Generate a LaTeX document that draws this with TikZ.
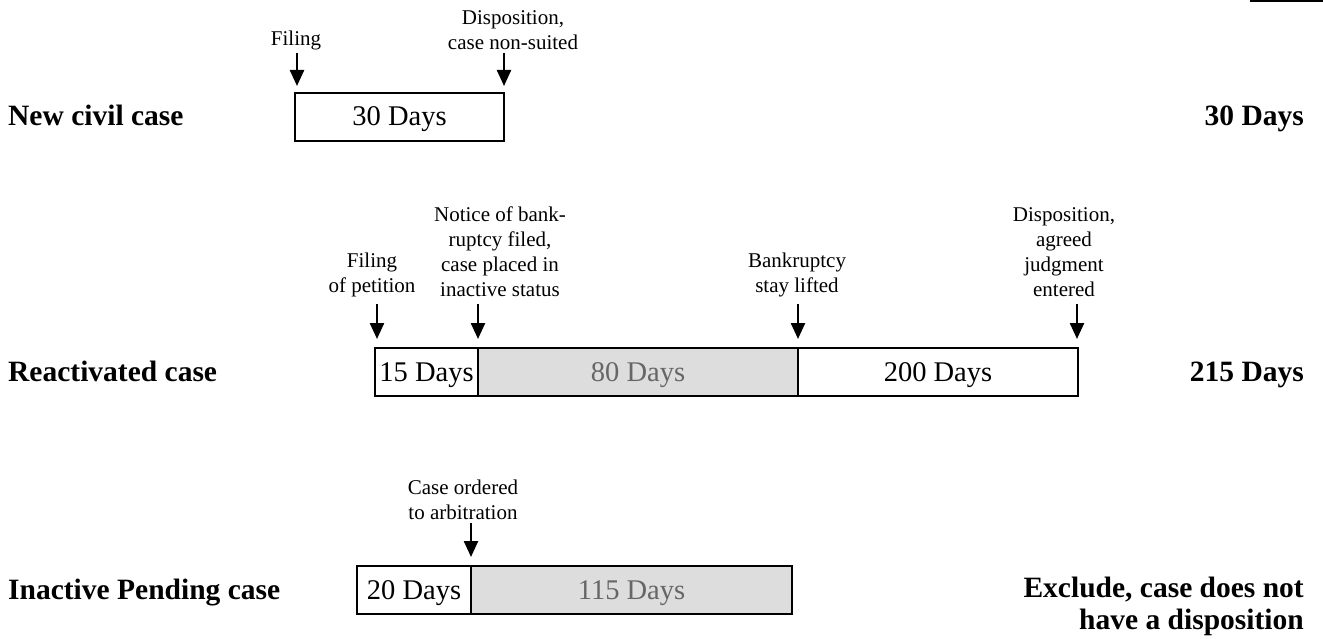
\documentclass[tikz,border=0pt]{standalone}
\usepackage{fontspec}
\setmainfont{Liberation Serif}
\usetikzlibrary{arrows.meta}
\definecolor{cellgray}{RGB}{221,221,221}
\definecolor{graytext}{RGB}{102,102,102}
\tikzset{
  cell/.style={draw=black, line width=2.2pt, rectangle, inner sep=0pt, minimum height=48pt,
    text height=18pt, text depth=0pt, font=\fontsize{28.5}{32}\selectfont},
  graycell/.style={cell, fill=cellgray, text=graytext},
  lbl/.style={inner sep=0pt, align=center, font=\fontsize{21}{25}\selectfont},
  rowname/.style={inner sep=0pt, anchor=base west, font=\fontsize{29.5}{32}\selectfont\bfseries},
  total/.style={inner sep=0pt, anchor=base east, align=right, font=\fontsize{29.5}{32}\selectfont\bfseries},
  arr/.style={line width=2.4pt, -{Triangle[width=14pt,length=16pt]}}
}
\begin{document}
\begin{tikzpicture}[x=1pt,y=-1pt]
\useasboundingbox (0,0) rectangle (1323,639);
\draw[line width=1.8pt] (1250,1) -- (1323,1);

% Row 1
\node[rowname] (r1name) at (8,126) {New civil case};
\node[cell, minimum width=209pt] (a1) at (399.5,117) {30 Days};
\node[total] (r1tot) at (1304,126) {30 Days};
\node[lbl, anchor=south] (l11) at (296,50) {Filing};
\node[lbl, anchor=south] (l12) at (513,50) {Disposition,\\case non-suited};
\coordinate (s11) at (297,53); \coordinate (e11) at (297,86);
\coordinate (s12) at (504,53); \coordinate (e12) at (504,86);
\draw[arr] (s11) -- (e11);
\draw[arr] (s12) -- (e12);

% Row 2
\node[rowname] (r2name) at (8,381) {Reactivated case};
\node[cell, minimum width=103pt] (b1) at (426.5,372) {15 Days};
\node[graycell, minimum width=320pt] (b2) at (638,372) {80 Days};
\node[cell, minimum width=280pt] (b3) at (938,372) {200 Days};
\node[total] (r2tot) at (1304,381) {215 Days};
\node[lbl, anchor=south] (l21) at (372,297) {Filing\\of petition};
\node[lbl, anchor=south] (l22) at (500,297) {Notice of bank-\\ruptcy filed,\\case placed in\\inactive status};
\node[lbl, anchor=south] (l23) at (797,297) {Bankruptcy\\stay lifted};
\node[lbl, anchor=south] (l24) at (1064,297) {Disposition,\\agreed\\judgment\\entered};
\coordinate (s21) at (377,304); \coordinate (e21) at (377,339);
\coordinate (s22) at (478,304); \coordinate (e22) at (478,339);
\coordinate (s23) at (798,304); \coordinate (e23) at (798,339);
\coordinate (s24) at (1077,304); \coordinate (e24) at (1077,339);
\draw[arr] (s21) -- (e21);
\draw[arr] (s22) -- (e22);
\draw[arr] (s23) -- (e23);
\draw[arr] (s24) -- (e24);

% Row 3
\node[rowname] (r3name) at (8,599) {Inactive Pending case};
\node[cell, minimum width=114pt] (c1) at (414,590) {20 Days};
\node[graycell, minimum width=321pt] (c2) at (631.5,590) {115 Days};
\node[total, anchor=south east] (r3tot) at (1304,636) {Exclude, case does not\\have a disposition};
\node[lbl, anchor=south] (l31) at (463,520) {Case ordered\\to arbitration};
\coordinate (s31) at (471,523); \coordinate (e31) at (471,557);
\draw[arr] (s31) -- (e31);
\end{tikzpicture}
\end{document}
